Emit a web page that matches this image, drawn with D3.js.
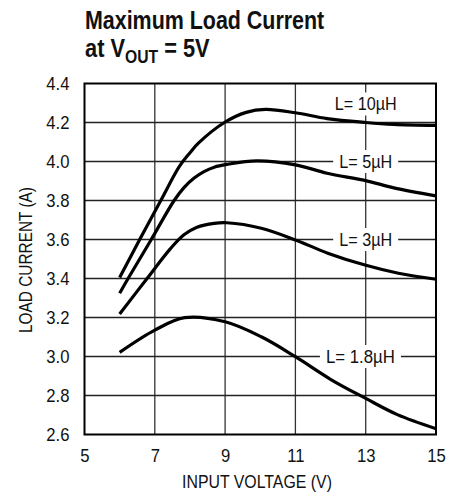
<!DOCTYPE html>
<html>
<head>
<meta charset="utf-8">
<script src="https://cdn.jsdelivr.net/npm/d3@7"></script>
<style>
  body { margin: 0; background: #fff; }
  svg text { font-family: "Liberation Sans", Arial, sans-serif; fill: #111; }
</style>
</head>
<body>
<svg id="chart"></svg>
<script>
// values
let xTicks = [5, 7, 9, 11, 13, 15];
let yTicks = [2.6, 2.8, 3.0, 3.2, 3.4, 3.6, 3.8, 4.0, 4.2, 4.4];

let curve10 = [[6, 3.405], [6.57, 3.6], [7.17, 3.8], [7.7, 3.975], [8.0, 4.045], [8.24, 4.094], [8.98, 4.2],
  [9.6, 4.252], [10.15, 4.267], [11, 4.25], [11.9, 4.22], [13, 4.2], [13.8, 4.19], [15, 4.185]];
let curve5 = [[6, 3.324], [6.24, 3.4], [6.9, 3.6], [7.55, 3.8], [7.83, 3.866], [8.12, 3.915],
  [8.4, 3.948], [8.69, 3.971], [9.05, 3.985], [9.9, 4.003], [11, 3.983], [11.9, 3.94],
  [13, 3.902], [13.8, 3.865], [15, 3.824]];
let curve3 = [[6, 3.218], [6.78, 3.4], [7.44, 3.552], [7.83, 3.624], [8.2, 3.663], [8.69, 3.683],
  [9.05, 3.686], [10.03, 3.658], [11, 3.598], [11.92, 3.53], [12.98, 3.469], [13.93, 3.427], [15, 3.396]];
let curve18 = [[6, 3.021], [7, 3.135], [7.85, 3.199], [9, 3.178], [10.03, 3.101], [11, 2.999],
  [12.01, 2.882], [13, 2.785], [13.9, 2.702], [15, 2.63]];

let series = [curve10, curve5, curve3, curve18];
let labels = ['L= 10\u00b5H', 'L= 5\u00b5H', 'L= 3\u00b5H', 'L= 1.8\u00b5H'];
let labelPos = [[13.0, 4.295], [13.0, 4.0], [13.0, 3.6], [12.85, 3.0]];
let labelWidths = [62, 53, 53, 69];

let width = 460;
let height = 493;

let svg = d3.select('#chart')
  .attr('width', width)
  .attr('height', height);

let xScale = d3.scaleLinear().domain([5, 15]).range([84.5, 436]);
let yScale = d3.scaleLinear().domain([2.6, 4.4]).range([434.5, 83.5]);

// narrow a text horizontally around a point (the reference uses a condensed face)
let squeeze = (sel, cx, target, extra) => {
  let w = sel.node().getBBox().width;
  let s = target / w;
  sel.attr('transform', (extra || '') + ' translate(' + cx + ',0) scale(' + s + ',1) translate(' + (-cx) + ',0)');
};

// title
let title = svg.append('text')
  .attr('x', 85)
  .attr('y', 29.5)
  .style('font-size', '25px')
  .style('font-weight', 'bold')
  .text('Maximum Load Current');
squeeze(title, 85, 240);

let title2 = svg.append('text')
  .attr('x', 85)
  .attr('y', 57)
  .style('font-size', '25px')
  .style('font-weight', 'bold');
title2.append('tspan').text('at V');
title2.append('tspan').attr('dy', 6).style('font-size', '18px').text('OUT');
title2.append('tspan').attr('dy', -6).text(' = 5V');
squeeze(title2, 85, 125);

// grid
svg.append('g')
  .selectAll('line')
  .data(xTicks.slice(1, -1))
  .enter()
  .append('line')
  .attr('x1', d => xScale(d))
  .attr('x2', d => xScale(d))
  .attr('y1', yScale(4.4))
  .attr('y2', yScale(2.6))
  .attr('stroke', '#333')
  .attr('stroke-width', 1.3);

svg.append('g')
  .selectAll('line')
  .data(yTicks.slice(1, -1))
  .enter()
  .append('line')
  .attr('x1', xScale(5))
  .attr('x2', xScale(15))
  .attr('y1', d => yScale(d))
  .attr('y2', d => yScale(d))
  .attr('stroke', '#222')
  .attr('stroke-width', 1.3);

// axes (tick labels only)
let xAxis = d3.axisBottom(xScale).tickValues(xTicks).tickSize(0).tickPadding(14).tickFormat(d3.format('d'));
let yAxis = d3.axisLeft(yScale).tickValues(yTicks).tickSize(0).tickPadding(15).tickFormat(d3.format('.1f'));

let gx = svg.append('g')
  .attr('transform', 'translate(0,' + yScale(2.6) + ')')
  .call(xAxis);
let gy = svg.append('g')
  .attr('transform', 'translate(' + xScale(5) + ',0)')
  .call(yAxis);

[gx, gy].forEach(g => {
  g.select('.domain').remove();
  g.selectAll('text')
    .attr('font-family', null)
    .style('font-size', '18.5px')
    .attr('fill', '#111')
    .each(function () {
      let t = d3.select(this);
      let w = this.getComputedTextLength();
      t.attr('textLength', w * 0.9).attr('lengthAdjust', 'spacingAndGlyphs');
    });
});

let xTitle = svg.append('text')
  .attr('x', 257)
  .attr('y', 488)
  .attr('text-anchor', 'middle')
  .style('font-size', '18px')
  .text('INPUT VOLTAGE (V)');
squeeze(xTitle, 257, 150);

let yTitle = svg.append('text')
  .attr('x', 0)
  .attr('y', 0)
  .attr('text-anchor', 'middle')
  .style('font-size', '18px')
  .text('LOAD CURRENT (A)');
squeeze(yTitle, 0, 146, 'translate(32,260) rotate(-90)');

// curve labels with white boxes over the grid
let labelGroup = svg.append('g');
labels.forEach((lab, i) => {
  let g = labelGroup.append('g');
  let cx = xScale(labelPos[i][0]);
  let t = g.append('text')
    .attr('x', cx)
    .attr('y', yScale(labelPos[i][1]))
    .attr('text-anchor', 'middle')
    .attr('dominant-baseline', 'central')
    .style('font-size', '19px')
    .text(lab);
  let b = t.node().getBBox();
  squeeze(t, cx, labelWidths[i]);
  g.insert('rect', 'text')
    .attr('x', cx - labelWidths[i] / 2 - 6)
    .attr('y', b.y - 1)
    .attr('width', labelWidths[i] + 12)
    .attr('height', b.height + 2)
    .attr('fill', '#fff');
});

// curves
let line = d3.line()
  .x(d => xScale(d[0]))
  .y(d => yScale(d[1]))
  .curve(d3.curveCatmullRom.alpha(0.5));

svg.append('g')
  .selectAll('path')
  .data(series)
  .enter()
  .append('path')
  .attr('d', line)
  .attr('fill', 'none')
  .attr('stroke', '#000')
  .attr('stroke-width', 3.2)
  .attr('stroke-linecap', 'butt');

// frame
svg.append('rect')
  .attr('x', xScale(5))
  .attr('y', yScale(4.4))
  .attr('width', xScale(15) - xScale(5))
  .attr('height', yScale(2.6) - yScale(4.4))
  .attr('fill', 'none')
  .attr('stroke', '#000')
  .attr('stroke-width', 2);
</script>
</body>
</html>
